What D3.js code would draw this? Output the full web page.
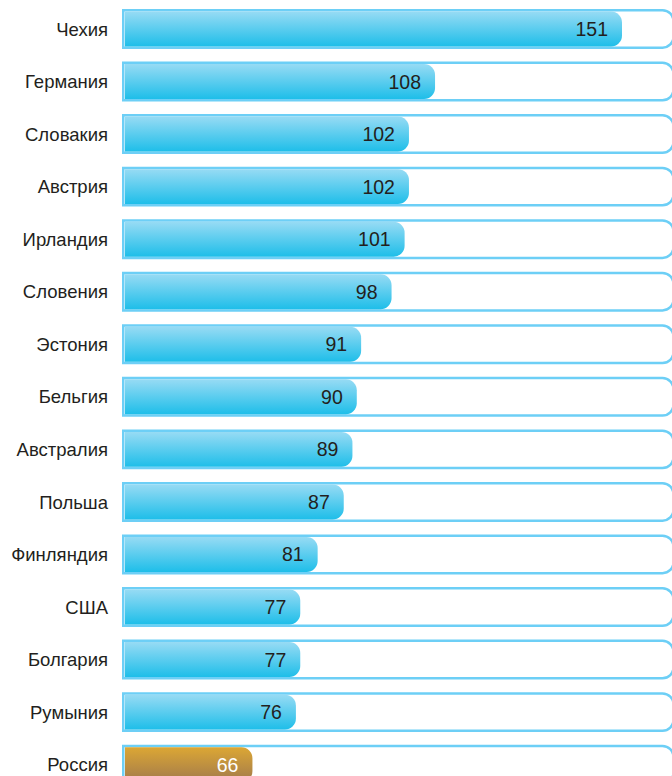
<!DOCTYPE html>
<html><head><meta charset="utf-8">
<script src="https://cdn.jsdelivr.net/npm/d3@7"></script>
<style>html,body{margin:0;padding:0;background:#fff;overflow:hidden}</style>
</head><body><div id="chart"></div>
<script>
const countries = ["Чехия","Германия","Словакия","Австрия","Ирландия","Словения","Эстония","Бельгия","Австралия","Польша","Финляндия","США","Болгария","Румыния","Россия"];
const values = [151,108,102,102,101,98,91,90,89,87,81,77,77,76,66];
const highlight = ["Россия"];

const W = 672, H = 776;
const svg = d3.select("#chart").append("svg").attr("width", W).attr("height", H);
const defs = svg.append("defs");
const gBlue = defs.append("linearGradient").attr("id","gBlue").attr("x1",0).attr("y1",0).attr("x2",0).attr("y2",1);
gBlue.append("stop").attr("offset","0%").attr("stop-color","#97dbf4");
gBlue.append("stop").attr("offset","100%").attr("stop-color","#1ebee9");
const gGold = defs.append("linearGradient").attr("id","gGold").attr("x1",0).attr("y1",0).attr("x2",0).attr("y2",1);
gGold.append("stop").attr("offset","0%").attr("stop-color","#dca734");
gGold.append("stop").attr("offset","100%").attr("stop-color","#a27a4c");

const x0 = 122;
const x = d3.scaleLinear().domain([36, 151]).range([x0, 622]);
const step = 52.55, padIn = 0.24;
const y = d3.scaleBand().domain(countries)
  .range([9, 9 + step * (countries.length - padIn)])
  .paddingInner(padIn).paddingOuter(0);

function rightRounded(x1, y1, x2, y2, r) {
  return `M${x1},${y1}H${x2 - r}A${r},${r} 0 0 1 ${x2},${y1 + r}V${y2 - r}A${r},${r} 0 0 1 ${x2 - r},${y2}H${x1}Z`;
}

const bh = y.bandwidth();
const rows = svg.selectAll("g.row").data(countries).enter().append("g").attr("class","row")
  .attr("transform", d => `translate(0,${y(d)})`);

// outline track
rows.append("path")
  .attr("d", rightRounded(x0 + 1.25, 1.25, 673.5, bh - 1.25, 11))
  .attr("fill", "#fff").attr("stroke", "#6dcff6").attr("stroke-width", 2.5);

// filled bar
rows.append("path")
  .attr("d", (d, i) => rightRounded(x0 + 3, 2.5, x(values[i]), bh - 2.5, 11))
  .attr("fill", d => highlight.includes(d) ? "url(#gGold)" : "url(#gBlue)");

// value labels
rows.append("text")
  .attr("x", (d, i) => x(values[i]) - 14)
  .attr("y", bh / 2)
  .attr("dy", "0.36em")
  .attr("text-anchor", "end")
  .attr("font-family", "Liberation Sans, Arial, sans-serif")
  .attr("font-size", 19.5)
  .attr("fill", d => highlight.includes(d) ? "#fff" : "#231f20")
  .text((d, i) => values[i]);

// category labels
rows.append("text")
  .attr("x", 108)
  .attr("y", bh / 2)
  .attr("dy", "0.36em")
  .attr("text-anchor", "end")
  .attr("font-family", "Liberation Sans, Arial, sans-serif")
  .attr("font-size", 18.5)
  .attr("fill", "#231f20")
  .text(d => d);
</script>
</body></html>
